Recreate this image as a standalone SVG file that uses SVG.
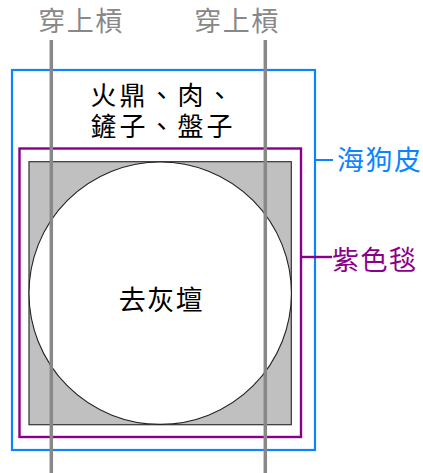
<svg xmlns="http://www.w3.org/2000/svg" width="423" height="473" viewBox="0 0 423 473" lang="zh-Hant" xml:lang="zh-Hant">
<style>
text{font-family:"Noto Sans CJK TC","Noto Sans CJK SC",sans-serif;font-size:27px;letter-spacing:1.5px}
.gray{fill:#888888}
.black{fill:#000000}
.blue{fill:#0a84ff}
.purple{fill:#8b008b}
.items{font-size:26px;letter-spacing:3px}
.bar{stroke:#888888;stroke-width:3.5;fill:none}
</style>
<rect width="423" height="473" fill="#ffffff"/>
<g id="blanket-blue">
<rect x="12" y="70" width="303" height="380" fill="none" stroke="#0a84ff" stroke-width="2.2"/>
</g>
<g id="blanket-purple">
<rect x="19.5" y="148.5" width="281.5" height="288.5" fill="none" stroke="#8b008b" stroke-width="2.4"/>
</g>
<g id="square">
<rect x="29" y="161.7" width="262.3" height="263" fill="#c0c0c0" stroke="#333333" stroke-width="1.2"/>
</g>
<g id="circle">
<circle cx="160.2" cy="293.2" r="131.2" fill="#ffffff" stroke="#222222" stroke-width="1.1"/>
<text x="161.5" y="310" text-anchor="middle" class="black">去灰壇</text>
</g>
<g id="top-items">
<text x="163" y="105" text-anchor="middle" class="black items">火鼎、肉、</text>
<text x="163" y="136" text-anchor="middle" class="black items">鏟子、盤子</text>
</g>
<g id="connectors">
<line x1="315" y1="160" x2="333" y2="160" stroke="#0a84ff" stroke-width="2"/>
<line x1="301" y1="257" x2="332" y2="257" stroke="#8b008b" stroke-width="2.4"/>
</g>
<g id="label-blue">
<text x="337" y="170" class="blue">海狗皮</text>
</g>
<g id="label-purple">
<text x="332" y="270" class="purple">紫色毯</text>
</g>
<g id="bar-left">
<line x1="51.3" y1="40" x2="51.3" y2="473" class="bar"/>
<text x="81" y="31" text-anchor="middle" class="gray">穿上槓</text>
</g>
<g id="bar-right">
<line x1="265.3" y1="40" x2="265.3" y2="473" class="bar"/>
<text x="237" y="31" text-anchor="middle" class="gray">穿上槓</text>
</g>
</svg>
